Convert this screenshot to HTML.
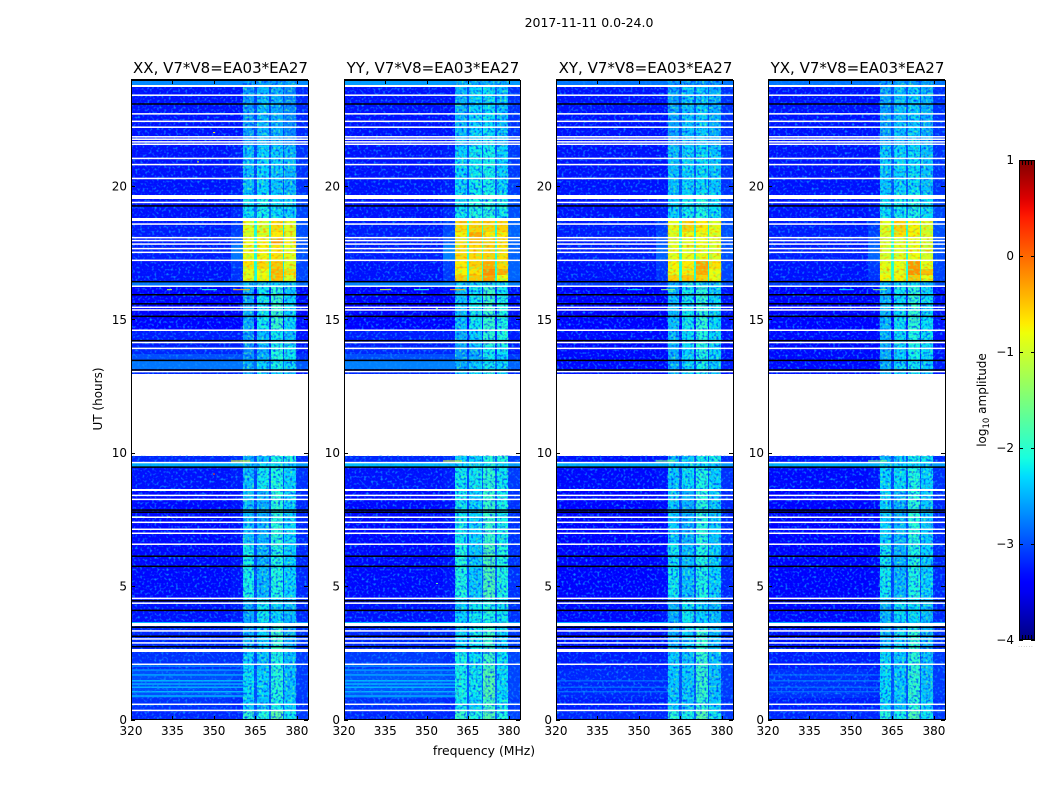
<!DOCTYPE html>
<html lang="en">
<head>
<meta charset="utf-8">
<title>2017-11-11 amplitude waterfall</title>
<style>
html,body{margin:0;padding:0;background:#fff;}
svg{display:block;}
text{font-family:"DejaVu Sans","Liberation Sans",sans-serif;fill:#000;}
</style>
</head>
<body>
<svg id="figure" xmlns="http://www.w3.org/2000/svg" width="1050" height="800" viewBox="0 0 1050 800">
  <defs>
    <filter id="speckle" x="0" y="0" width="100%" height="100%" color-interpolation-filters="sRGB">
      <feTurbulence type="fractalNoise" baseFrequency="0.42" numOctaves="1" seed="7"/>
      <feColorMatrix type="matrix" values="0 0 0 0 0.05  0 0 0 0 0.55  0 0 0 0 1  3.4 0 0 0 -1.75"/>
    </filter>
    <filter id="speckle-dark" x="0" y="0" width="100%" height="100%" color-interpolation-filters="sRGB">
      <feTurbulence type="fractalNoise" baseFrequency="0.42" numOctaves="1" seed="23"/>
      <feColorMatrix type="matrix" values="0 0 0 0 0  0 0 0 0 0.25  0 0 0 0 1  3.2 0 0 0 -1.52"/>
    </filter>
    <filter id="speckle-green" x="0" y="0" width="100%" height="100%" color-interpolation-filters="sRGB">
      <feTurbulence type="fractalNoise" baseFrequency="0.42" numOctaves="1" seed="41"/>
      <feColorMatrix type="matrix" values="0 0 0 0 0.35  0 0 0 0 1  0 0 0 0 0.6  3.2 0 0 0 -1.7"/>
    </filter>
    <filter id="speckle-orange" x="0" y="0" width="100%" height="100%" color-interpolation-filters="sRGB">
      <feTurbulence type="fractalNoise" baseFrequency="0.3 0.42" numOctaves="1" seed="11"/>
      <feColorMatrix type="matrix" values="0 0 0 0 1  0 0 0 0 0.55  0 0 0 0 0  2.8 0 0 0 -1.45"/>
    </filter>
    <filter id="speckle-lime" x="0" y="0" width="100%" height="100%" color-interpolation-filters="sRGB">
      <feTurbulence type="fractalNoise" baseFrequency="0.3 0.42" numOctaves="1" seed="53"/>
      <feColorMatrix type="matrix" values="0 0 0 0 0.55  0 0 0 0 1  0 0 0 0 0.35  2.8 0 0 0 -1.35"/>
    </filter>
    <linearGradient id="colorbar-gradient" x1="0" y1="1" x2="0" y2="0"></linearGradient>
  </defs>
  <text x="589" y="27" font-size="12.5" text-anchor="middle">2017-11-11 0.0-24.0</text>
  <g id="panels"></g>
  <text x="484" y="755" font-size="12.4" text-anchor="middle">frequency (MHz)</text>
  <text x="0" y="0" font-size="12" text-anchor="middle" transform="translate(102,399) rotate(-90)">UT (hours)</text>
  <g id="colorbar"></g>
  <text x="0" y="0" font-size="12" text-anchor="middle" transform="translate(986,400) rotate(-90)">log<tspan font-size="8.5" dy="3">10</tspan><tspan dy="-3"> amplitude</tspan></text>
  <text x="1026" y="647" font-size="5" text-anchor="middle" letter-spacing="1" style="fill:#777">......</text>
</svg>
<script>
// ---- chart data ----
const panelTitles = ["XX, V7*V8=EA03*EA27", "YY, V7*V8=EA03*EA27", "XY, V7*V8=EA03*EA27", "YX, V7*V8=EA03*EA27"];
const xTickValues = [320, 335, 350, 365, 380];
const yTickValues = [0, 5, 10, 15, 20];
const colorbarTicks = [1, 0, -1, -2, -3, -4];

// frequency channel edges (MHz)
const channelEdges = [320, 356, 360.4, 364.6, 365.5, 370, 370.5, 375, 375.5, 379.7, 384];
// time segment edges (UT hours), top to bottom
const segmentEdges = [24, 23.79, 21.5, 19.7, 18.78, 18.27, 18.05, 17.8, 17.2, 16.9, 16.65, 16.41, 16.24, 15.92, 14.6, 14.0, 13.7, 13.46, 13.12, 12.95, 9.88, 9.63, 9.46, 8.6, 6.57, 4.5, 3.67, 3.49, 2.54, 1.9, 0.8, 0.34, 0];

// log10 amplitude: one row per time segment, one value per channel; null = no data
const levelsXX = [
[-2.7,-2.7,-2.6,-2.7,-2.6,-2.7,-2.6,-2.7,-2.6,-2.7],
[-3.3,-3.3,-2.6,-3.05,-2.45,-3.05,-2.5,-3.05,-2.7,-3.2],
[-3.3,-3.25,-2.4,-3.05,-2.3,-3.05,-2.35,-3.05,-2.45,-3.15],
[-3.3,-3.2,-2.25,-2.85,-2.15,-2.85,-2.25,-2.85,-2.3,-3.05],
[-3.25,-3.1,-.9,-2.1,-.95,-2.1,-.6,-2.2,-.9,-3],
[-3.25,-3.05,-.95,-2.1,-.85,-2.1,-.7,-2.2,-.9,-3],
[-3.25,-3,-.8,-2.1,-.7,-2.1,-.25,-2.2,-.7,-3],
[-3.25,-2.8,-.85,-2.1,-.75,-2.1,-.65,-2.2,-.85,-3],
[-3.3,-3.1,-.65,-2.1,-.6,-2.1,-.5,-2.2,-.9,-3.05],
[-3.3,-3.15,-.85,-2.1,-.8,-2.1,-.4,-2.2,-.6,-3.05],
[-3.3,-3.15,-.9,-2.1,-.75,-2.1,-.45,-2.2,-.95,-3.05],
[-2.8,-2.75,-2.4,-2.6,-2.3,-2.6,-2.3,-2.6,-2.4,-2.85],
[-3.4,-3.3,-2.5,-3.4,-2.2,-3.3,-2,-3.3,-2.4,-3.35],
[-3.4,-3.4,-2.5,-3.45,-2.2,-3.35,-1.95,-3.35,-2.3,-3.35],
[-3.25,-3.25,-2.6,-3.3,-2.4,-3.2,-2.2,-3.2,-2.4,-3.3],
[-3.2,-3.2,-2.7,-3.2,-2.5,-3.2,-2.1,-3.2,-2.2,-3.3],
[-3,-3,-2.6,-3.05,-2.45,-3.05,-2.1,-3.05,-2.2,-3.15],
[-2.8,-2.8,-2.5,-2.85,-2.3,-2.85,-2.15,-2.85,-2.3,-2.95],
[-3.2,-3.2,-2.5,-3.2,-2.3,-3.2,-2.3,-3.2,-2.4,-3.3],
null,
[-3.2,-3.15,-2.5,-3,-2.4,-3,-2.1,-3,-2.1,-3.2],
[-2.5,-2.45,-2.35,-2.5,-2.3,-2.5,-2.25,-2.5,-2.35,-2.6],
[-3.3,-3.25,-2.4,-3.05,-2.2,-3.05,-2.1,-3.05,-2.3,-3.15],
[-3.35,-3.3,-2.4,-3.05,-2.45,-3.05,-2.05,-3.05,-2.3,-3.2],
[-3.35,-3.3,-2.15,-3.05,-2.45,-3.05,-2.1,-3.05,-2.3,-3.2],
[-3.3,-3.25,-2.5,-3.05,-2.2,-3.05,-2.3,-3.05,-2.4,-3.2],
[-2.45,-2.45,-2.4,-2.5,-2.4,-2.5,-2.3,-2.5,-2.4,-2.6],
[-3.2,-3.2,-2.5,-3.05,-2.3,-3.05,-1.95,-3.05,-2.5,-3.15],
[-3.15,-3.15,-2.3,-3.05,-2.4,-3.05,-2.1,-3.05,-2.4,-3.1],
[-3,-3.05,-2.25,-3,-2.3,-3,-2.05,-3,-2.4,-3.1],
[-3.15,-3.2,-2.35,-3,-2.4,-3,-2.15,-3,-2.3,-3.15],
[-3.2,-3.2,-2,-2.9,-2.1,-2.9,-1.7,-2.9,-2.2,-3.1]
];
const levelsYY = [
[-2.6,-2.6,-2.5,-2.6,-2.5,-2.6,-2.5,-2.6,-2.5,-2.6],
[-3.3,-3.3,-2.45,-3,-2.3,-3,-2.25,-3,-2.4,-3.15],
[-3.3,-3.25,-2.3,-3,-2.2,-3,-2.15,-3,-2.3,-3.1],
[-3.3,-3.2,-2.2,-2.8,-2.1,-2.8,-2.05,-2.8,-2.2,-3],
[-3.25,-3.05,-.6,-2,-.55,-2,-.55,-2.1,-.55,-2.9],
[-3.25,-3,-.75,-2,-.35,-2,-.7,-2.1,-.7,-2.9],
[-3.25,-2.95,-.6,-2,-.4,-2,-.5,-2.1,-.6,-2.9],
[-3.25,-2.75,-.6,-2,-.6,-2,-.55,-2.1,-.65,-2.9],
[-3.3,-3.05,-.7,-2,-.55,-2,-.35,-2.1,-.6,-2.9],
[-3.3,-3.1,-.75,-2,-.65,-2,-.2,-2.1,-.35,-2.9],
[-3.3,-3.1,-.5,-2,-.5,-2,-.3,-2.1,-.8,-2.9],
[-2.75,-2.7,-2.35,-2.6,-2.3,-2.6,-2.25,-2.6,-2.3,-2.75],
[-3.4,-3.3,-2.4,-3.3,-2.2,-3.2,-1.9,-3.2,-2.2,-3.3],
[-3.4,-3.4,-2.4,-3.35,-2.2,-3.3,-1.95,-3.3,-2.1,-3.3],
[-3.25,-3.25,-2.5,-3.25,-2.3,-3.2,-2,-3.2,-2.1,-3.25],
[-3.2,-3.2,-2.6,-3.2,-2.5,-3.2,-2.2,-3.2,-2.2,-3.25],
[-3,-3,-2.6,-3,-2.5,-3,-2.2,-3,-2.3,-3.1],
[-2.75,-2.75,-2.5,-2.8,-2.35,-2.8,-2.2,-2.8,-2.3,-2.9],
[-3.2,-3.2,-2.4,-3.2,-2.3,-3.2,-2.1,-3.2,-2.3,-3.2],
null,
[-3.2,-3.15,-2.3,-2.95,-2.3,-2.95,-2.05,-2.95,-2.05,-3.1],
[-2.45,-2.45,-2.3,-2.45,-2.3,-2.45,-2.2,-2.45,-2.3,-2.55],
[-3.3,-3.25,-2.2,-3,-2.2,-3,-2.0,-3,-2.2,-3.1],
[-3.35,-3.3,-2.2,-3,-2.3,-3,-1.95,-3,-2.15,-3.15],
[-3.35,-3.3,-2.1,-3,-2.35,-3,-1.8,-3,-2.1,-3.15],
[-3.3,-3.25,-2.3,-3,-2.2,-3,-2.1,-3,-2.2,-3.15],
[-2.4,-2.4,-2.3,-2.45,-2.3,-2.45,-2.25,-2.45,-2.3,-2.55],
[-3.2,-3.2,-2.3,-3,-2.2,-3,-1.95,-3,-2.3,-3.1],
[-3.1,-3.15,-2.15,-3,-2.25,-3,-1.9,-3,-2.25,-3.05],
[-2.95,-3,-2.15,-2.95,-2.2,-2.95,-1.75,-2.95,-2.25,-3.05],
[-3.15,-3.2,-2.2,-2.95,-2.3,-2.95,-1.9,-2.95,-2.2,-3.1],
[-3.2,-3.2,-1.95,-2.9,-2.1,-2.9,-1.75,-2.9,-2.1,-3.05]
];
const levelsXY = [
[-2.8,-2.8,-2.6,-2.8,-2.6,-2.8,-2.6,-2.8,-2.6,-2.8],
[-3.3,-3.3,-2.55,-3,-2.4,-3,-2.35,-3,-2.5,-3.15],
[-3.3,-3.3,-2.4,-3,-2.3,-3,-2.25,-3,-2.35,-3.15],
[-3.3,-3.25,-2.3,-2.85,-2.2,-2.85,-2.1,-2.85,-2.25,-3.05],
[-3.25,-3.1,-.85,-2.05,-.55,-2.05,-.7,-2.15,-.85,-3],
[-3.25,-3.05,-.9,-2.05,-.8,-2.05,-.8,-2.15,-.9,-3],
[-3.25,-3,-.9,-2.05,-.85,-2.05,-.8,-2.15,-.9,-3],
[-3.25,-2.9,-.85,-2.05,-.85,-2.05,-.85,-2.15,-.9,-3],
[-3.3,-3.1,-.75,-2.05,-.7,-2.05,-.3,-2.15,-.65,-3.05],
[-3.3,-3.15,-.8,-2.05,-.7,-2.05,-.35,-2.15,-.8,-3.05],
[-3.3,-3.15,-.55,-2.05,-.5,-2.05,-.55,-2.15,-.85,-3.05],
[-3.1,-3.1,-2.4,-2.9,-2.3,-2.9,-2.2,-2.9,-2.4,-3],
[-3.4,-3.35,-2.45,-3.3,-2.2,-3.2,-2,-3.2,-2.3,-3.3],
[-3.4,-3.4,-2.4,-3.35,-2.2,-3.3,-2,-3.3,-2.25,-3.3],
[-3.35,-3.35,-2.45,-3.25,-2.25,-3.2,-2.05,-3.2,-2.25,-3.3],
[-3.35,-3.35,-2.5,-3.2,-2.3,-3.2,-2.1,-3.2,-2.25,-3.3],
[-3.35,-3.35,-2.5,-3.2,-2.3,-3.2,-2.1,-3.2,-2.3,-3.3],
[-3.35,-3.35,-2.5,-3.1,-2.3,-3.1,-2.15,-3.1,-2.35,-3.25],
[-3.3,-3.3,-2.45,-3.2,-2.3,-3.2,-2.2,-3.2,-2.4,-3.3],
null,
[-3.3,-3.25,-2.45,-3,-2.35,-3,-2.15,-3,-2.15,-3.2],
[-2.5,-2.5,-2.35,-2.5,-2.3,-2.5,-2.25,-2.5,-2.35,-2.6],
[-3.35,-3.3,-2.35,-3.05,-2.25,-3.05,-2.1,-3.05,-2.3,-3.15],
[-3.4,-3.35,-2.35,-3.05,-2.45,-3.05,-2.05,-3.05,-2.35,-3.2],
[-3.4,-3.35,-2.2,-3.05,-2.4,-3.05,-2.1,-3.05,-2.3,-3.2],
[-3.35,-3.3,-2.5,-3.05,-2.2,-3.05,-2.3,-3.05,-2.4,-3.2],
[-2.5,-2.5,-2.4,-2.5,-2.4,-2.5,-2.35,-2.5,-2.4,-2.6],
[-3.3,-3.3,-2.5,-3.05,-2.3,-3.05,-2,-3.05,-2.45,-3.15],
[-3.25,-3.25,-2.3,-3.05,-2.4,-3.05,-1.95,-3.05,-2.4,-3.1],
[-3.2,-3.2,-2.35,-3,-2.35,-3,-1.95,-3,-2.4,-3.1],
[-3.25,-3.25,-2.35,-3,-2.4,-3,-2,-3,-2.35,-3.15],
[-3.2,-3.2,-2.05,-2.9,-2.15,-2.9,-1.75,-2.9,-2.2,-3.1]
];
const levelsYX = [
[-2.8,-2.8,-2.6,-2.8,-2.6,-2.8,-2.6,-2.8,-2.6,-2.8],
[-3.3,-3.3,-2.55,-3,-2.4,-3,-2.35,-3,-2.5,-3.15],
[-3.3,-3.3,-2.35,-3,-2.3,-3,-2.25,-3,-2.4,-3.15],
[-3.3,-3.25,-2.25,-2.85,-2.2,-2.85,-2.1,-2.85,-2.25,-3.05],
[-3.25,-3.1,-.9,-2.05,-.55,-2.05,-.75,-2.15,-.95,-3],
[-3.25,-3.05,-.95,-2.05,-.65,-2.05,-.75,-2.15,-.95,-3],
[-3.25,-3,-.95,-2.05,-.9,-2.05,-.85,-2.15,-.95,-3],
[-3.25,-2.9,-.95,-2.05,-.9,-2.05,-.8,-2.15,-.95,-3],
[-3.3,-3.1,-.85,-2.05,-.8,-2.05,-.25,-2.15,-.85,-3.05],
[-3.3,-3.15,-.9,-2.05,-.85,-2.05,-.2,-2.15,-.45,-3.05],
[-3.3,-3.15,-.75,-2.05,-.75,-2.05,-.5,-2.15,-.85,-3.05],
[-3.1,-3.1,-2.4,-2.9,-2.3,-2.9,-2.2,-2.9,-2.4,-3],
[-3.4,-3.35,-2.45,-3.3,-2.2,-3.2,-2,-3.2,-2.3,-3.3],
[-3.4,-3.4,-2.45,-3.35,-2.25,-3.3,-2,-3.3,-2.25,-3.3],
[-3.35,-3.35,-2.45,-3.25,-2.25,-3.2,-2.1,-3.2,-2.25,-3.3],
[-3.35,-3.35,-2.5,-3.2,-2.3,-3.2,-2.15,-3.2,-2.25,-3.3],
[-3.35,-3.35,-2.5,-3.2,-2.3,-3.2,-2.15,-3.2,-2.3,-3.3],
[-3.35,-3.35,-2.5,-3.1,-2.3,-3.1,-2.2,-3.1,-2.35,-3.25],
[-3.3,-3.3,-2.45,-3.2,-2.3,-3.2,-2.2,-3.2,-2.4,-3.3],
null,
[-3.3,-3.25,-2.45,-3,-2.35,-3,-2.15,-3,-2.2,-3.2],
[-2.5,-2.5,-2.35,-2.5,-2.3,-2.5,-2.25,-2.5,-2.35,-2.6],
[-3.35,-3.3,-2.3,-3.05,-2.25,-3.05,-2.1,-3.05,-2.3,-3.15],
[-3.4,-3.35,-2.3,-3.05,-2.45,-3.05,-2.05,-3.05,-2.35,-3.2],
[-3.4,-3.35,-2.2,-3.05,-2.45,-3.05,-2.1,-3.05,-2.3,-3.2],
[-3.35,-3.3,-2.45,-3.05,-2.25,-3.05,-2.25,-3.05,-2.4,-3.2],
[-2.5,-2.5,-2.4,-2.5,-2.4,-2.5,-2.35,-2.5,-2.4,-2.6],
[-3.3,-3.3,-2.45,-3.05,-2.3,-3.05,-2,-3.05,-2.45,-3.15],
[-3.25,-3.25,-2.25,-3.05,-2.35,-3.05,-2,-3.05,-2.4,-3.1],
[-3.15,-3.2,-2.25,-3,-2.35,-3,-2,-3,-2.4,-3.1],
[-3.25,-3.25,-2.3,-3,-2.4,-3,-2.05,-3,-2.35,-3.15],
[-3.2,-3.2,-2.05,-2.9,-2.15,-2.9,-1.8,-2.9,-2.2,-3.1]
];

// faint horizontal stripes below 360 MHz: [UT, level]
const stripesXX = [[2,-2.7],[1.85,-2.65],[1.67,-2.5],[1.45,-2.4],[1.33,-2.45],[1.21,-2.45],[1.04,-2.4],[0.88,-2.4]];
const stripesYY = [[2,-2.65],[1.85,-2.6],[1.67,-2.5],[1.45,-2.4],[1.33,-2.4],[1.21,-2.4],[1.04,-2.45],[0.88,-2.45]];
const stripesXY = [[1.45,-2.85],[1.21,-2.85],[1.04,-2.85]];
const stripesYX = [[1.67,-2.85],[1.45,-2.8],[1.21,-2.85],[1.04,-2.85]];

// narrow-band interference: [startMHz, endMHz, UT, level]
const spikesXX = [[333,335,16.11,-1.1],[345.5,351,16.11,-2.0],[357,363,16.11,-0.4],[356,363,9.69,-0.8],[349.6,350.2,22,-0.7],[344,344.6,20.9,-0.9],[320,325,7.6,-2.0],[333,334,7.6,-1.1],[349.7,350.3,9.2,0.1]];
const spikesYY = [[333,337,16.11,-1.0],[345.5,351,16.11,-2.0],[358.6,364,16.11,-0.4],[356,363,9.69,-0.9],[353.6,354,5.1,-1.6],[353.6,354,15.4,-1.6]];
const spikesXY = [[345.5,351,16.11,-2.3],[358,363,16.11,-1.4],[356,363,9.69,-1.5]];
const spikesYX = [[345.5,351,16.11,-2.3],[358,363,16.11,-1.4],[356,363,9.69,-1.5],[342.6,343.2,20.55,-1]];

// flagged time rows: [startUT, endUT]
const whiteRows = [[23.79,23.7],[23.43,23.37],[22.73,22.67],[22.45,22.39],[22.23,22.17],[21.87,21.81],[21.78,21.72],[21.68,21.62],[21.59,21.53],[21.06,21],[20.83,20.77],[20.31,20.25],[19.67,19.51],[19.41,19.35],[18.78,18.7],[18.6,18.54],[18.09,18.03],[17.98,17.92],[17.85,17.79],[17.68,17.62],[17.54,17.48],[17.24,17.18],[16.27,16.21],[15.48,15.42],[15.38,15.32],[14.62,14.56],[14.16,14.1],[13.94,13.88],[13.07,13.01],[9.66,9.6],[8.64,8.56],[8.43,8.37],[8.28,8.22],[7.61,7.55],[7.42,7.36],[7.16,7.1],[7.01,6.95],[6.6,6.54],[4.57,4.51],[4.39,4.33],[3.61,3.49],[3.35,3.29],[3.05,2.99],[2.9,2.84],[2.65,2.54],[2.1,2.04],[0.6,0.54],[0.37,0.31]];
const blackRows = [[24,23.93],[23.1,23.04],[19.28,19.22],[16.44,16.38],[15.95,15.89],[15.61,15.55],[15.14,15.08],[14.23,14.17],[13.49,13.43],[13.13,13.07],[9.49,9.43],[7.88,7.82],[7.8,7.74],[6.15,6.09],[5.77,5.71],[4.48,4.42],[4.12,4.06],[3.49,3.43],[3.15,3.09],[2.76,2.7]];

// ---- rendering ----
const SVG_NS = "http://www.w3.org/2000/svg";
const panelLeft = [131, 344, 556, 768];
const panelWidths = [177, 176, 177, 177];
const allLevels = [levelsXX, levelsYY, levelsXY, levelsYX];
const allStripes = [stripesXX, stripesYY, stripesXY, stripesYX];
const allSpikes = [spikesXX, spikesYY, spikesXY, spikesYX];
const panelKeys = ["xx", "yy", "xy", "yx"];
const bandChannels = [2, 4, 6, 8];

function xScale(p, f) { return panelLeft[p] + (f - 320) / 64 * panelWidths[p]; }
function yScale(t) { return 719.5 - 26.68 * t; }
function cbScale(v) { return 640 - (v + 4) * 96; }

function interp(stops, v) {
  for (let i = 1; i < stops.length; i++) {
    if (v <= stops[i][0]) {
      const a = stops[i - 1], b = stops[i];
      return a[1] + (b[1] - a[1]) * (v - a[0]) / (b[0] - a[0]);
    }
  }
  return stops[stops.length - 1][1];
}
const jetR = [[0,0],[.35,0],[.66,1],[.89,1],[1,.5]];
const jetG = [[0,0],[.125,0],[.375,1],[.64,1],[.91,0],[1,0]];
const jetB = [[0,.5],[.11,1],[.34,1],[.65,0],[1,0]];
function color(level) {
  const v = Math.max(0, Math.min(1, (level + 4) / 5));
  const c = s => Math.round(255 * interp(s, v));
  return "rgb(" + c(jetR) + "," + c(jetG) + "," + c(jetB) + ")";
}
function node(tag, attrs, parent) {
  const el = document.createElementNS(SVG_NS, tag);
  for (const k in attrs) el.setAttribute(k, attrs[k]);
  parent.appendChild(el);
  return el;
}
function band(parent, p, f0, f1, t0, t1, fill) {
  const x0 = Math.round(xScale(p, f0)), x1 = Math.round(xScale(p, f1));
  const y0 = Math.round(yScale(t0)), y1 = Math.max(Math.round(yScale(t1)), y0 + 1);
  return node("rect", {x: x0, y: y0, width: Math.max(1, x1 - x0), height: y1 - y0, fill: fill, "shape-rendering": "crispEdges"}, parent);
}
// a single flagged or bright time row: thin line centred on its UT
function thinRow(parent, p, f0, f1, t, thickness, fill) {
  const x0 = Math.round(xScale(p, f0)), x1 = Math.round(xScale(p, f1));
  return node("rect", {x: x0, y: yScale(t) - thickness / 2, width: Math.max(1, x1 - x0), height: thickness, fill: fill}, parent);
}
function flagged(parent, p, r, thickness, fill) {
  if (r[0] - r[1] > 0.07) return band(parent, p, 320, 384, r[0], r[1], fill);
  return thinRow(parent, p, 320, 384, (r[0] + r[1]) / 2, thickness, fill);
}
function grain(parent, p, f0, f1, t0, t1, filterId) {
  const x0 = xScale(p, f0), x1 = xScale(p, f1);
  return node("rect", {x: x0, y: yScale(t0), width: x1 - x0, height: yScale(t1) - yScale(t0), filter: "url(#" + filterId + ")"}, parent);
}

const panelsRoot = document.getElementById("panels");
panelTitles.forEach(function (title, p) {
  const g = node("g", {}, panelsRoot);
  
  

  // heatmap cells
  allLevels[p].forEach(function (row, s) {
    if (!row) return;
    row.forEach(function (level, c) {
      const cell = band(g, p, channelEdges[c], channelEdges[c + 1], segmentEdges[s], segmentEdges[s + 1], color(level));
      
      
    });
  });
  allStripes[p].forEach(function (st) {
    const stripe = thinRow(g, p, 320, 360.4, st[0], 1.3, color(st[1]));
    
    
  });

  // visual grain only: it does not alter any value above
  [[24, 18.78], [16.41, 12.95], [9.88, 0]].forEach(function (span) {
    const a = grain(g, p, 320, 384, span[0], span[1], "speckle");
    
    
    bandChannels.forEach(function (c) {
      const b = grain(g, p, channelEdges[c], channelEdges[c + 1], span[0], span[1], "speckle-dark");
      
      
      const d = grain(g, p, channelEdges[c], channelEdges[c + 1], span[0], span[1], "speckle-green");
      
      
    });
  });
  [[320, 360.4], [379.7, 384]].forEach(function (range) {
    const a = grain(g, p, range[0], range[1], 18.78, 16.41, "speckle");
    
    
  });
  bandChannels.forEach(function (c) {
    const b = grain(g, p, channelEdges[c], channelEdges[c + 1], 18.78, 16.41, "speckle-lime");
    
    
    const d = grain(g, p, channelEdges[c], channelEdges[c + 1], 18.78, 16.41, "speckle-orange");
    
    
  });

  allSpikes[p].forEach(function (sp) {
    const spike = thinRow(g, p, sp[0], sp[1], sp[2], 1, color(sp[3]));
    
    
  });

  whiteRows.forEach(function (r) {
    const row = flagged(g, p, r, 1.5, "#fff");
    
    
  });
  blackRows.forEach(function (r) {
    const row = flagged(g, p, r, 1.5, "#000");
    
    
  });

  // frame
  const pw = panelWidths[p];
  const frame = node("rect", {x: panelLeft[p] + .5, y: 80.5, width: pw, height: 639, fill: "none", stroke: "#000", "stroke-width": 1}, g);
  
  

  // ticks and labels
  xTickValues.forEach(function (v) {
    const x = Math.round(xScale(p, v)) + .5;
    const t1 = node("line", {x1: x, x2: x, y1: 720, y2: 716, stroke: "#000"}, g);
    
    
    const t2 = node("line", {x1: x, x2: x, y1: 80, y2: 84, stroke: "#000"}, g);
    
    
    const lab = node("text", {x: xScale(p, v), y: 735, "font-size": 12, "text-anchor": "middle"}, g);
    lab.textContent = v;
    
    
  });
  yTickValues.forEach(function (v) {
    const y = Math.round(yScale(v)) + .5;
    const t1 = node("line", {x1: panelLeft[p], x2: panelLeft[p] + 4, y1: y, y2: y, stroke: "#000"}, g);
    
    
    const t2 = node("line", {x1: panelLeft[p] + pw, x2: panelLeft[p] + pw - 4, y1: y, y2: y, stroke: "#000"}, g);
    
    
    const lab = node("text", {x: panelLeft[p] - 4, y: yScale(v) + 4.5, "font-size": 12, "text-anchor": "end"}, g);
    lab.textContent = v;
    
    
  });

  const titleEl = node("text", {x: panelLeft[p] + pw / 2 + 1, y: 73, "font-size": 15, "text-anchor": "middle"}, g);
  titleEl.textContent = title;
  
  
});

// colorbar
const grad = document.getElementById("colorbar-gradient");
for (let i = 0; i <= 50; i++) {
  node("stop", {offset: (i * 2) + "%", "stop-color": color(-4 + i / 10)}, grad);
}
const cb = document.getElementById("colorbar");
const cbFill = node("rect", {x: 1019, y: 160, width: 16, height: 480, fill: "url(#colorbar-gradient)"}, cb);


const cbFrame = node("rect", {x: 1019.5, y: 160.5, width: 15, height: 479, fill: "none", stroke: "#000"}, cb);


colorbarTicks.forEach(function (v) {
  const y = Math.round(cbScale(v)) + .5;
  const left = node("line", {x1: 1019, x2: 1023, y1: y, y2: y, stroke: "#000"}, cb);
  
  
  const right = node("line", {x1: 1031, x2: 1035, y1: y, y2: y, stroke: "#000"}, cb);
  
  
  const lab = node("text", {x: 1014, y: cbScale(v) + 4, "font-size": 12, "text-anchor": "end"}, cb);
  lab.textContent = v < 0 ? "\u2212" + Math.abs(v) : String(v);
  
  
});
[1022, 1025, 1028, 1031].forEach(function (x) {
  const top = node("line", {x1: x + .5, x2: x + .5, y1: 160, y2: 165, stroke: "#000"}, cb);
  
  
  const bottom = node("line", {x1: x + .5, x2: x + .5, y1: 635, y2: 640, stroke: "#000"}, cb);
  
  
});
</script>
</body>
</html>
